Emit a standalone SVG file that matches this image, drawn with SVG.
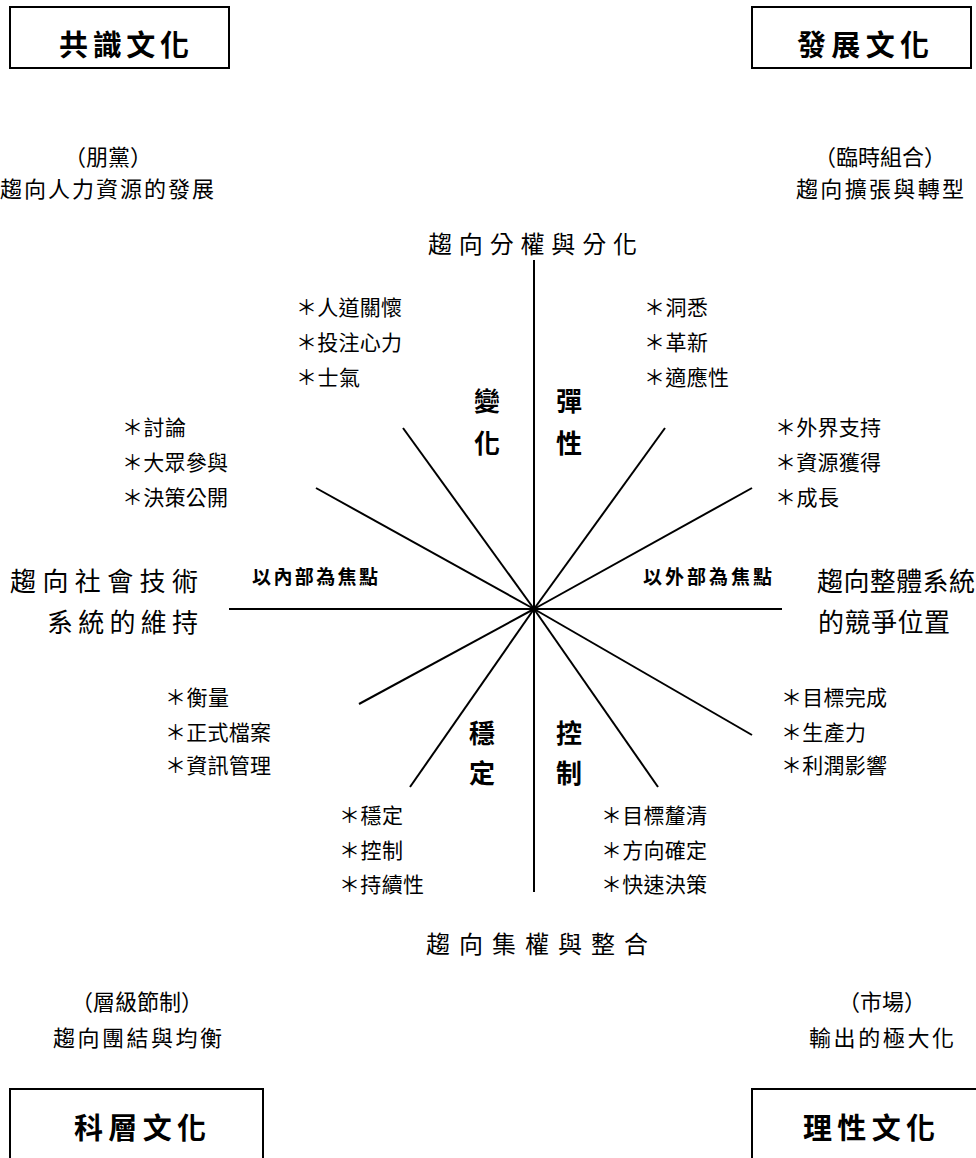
<svg xmlns="http://www.w3.org/2000/svg" width="976" height="1158" viewBox="0 0 976 1158">
<style>
text{font-family:"Liberation Serif","Noto Sans CJK TC",serif;fill:#000}
.it{font-size:21px}
.lab{font-size:22px}
.side{font-size:26px}
.ax{font-size:24px}
.b{font-family:"Noto Sans CJK TC","Liberation Sans",sans-serif;font-weight:bold}
.bx{font-size:29px}
.q{font-size:26px}
.f{font-size:19px}
.box{fill:none;stroke:#000;stroke-width:2}
.ln{stroke:#000;stroke-width:2;fill:none}
</style>
<rect width="976" height="1158" fill="#fff"/>
<g id="connectors">
<line class="ln" x1="534" y1="260" x2="534" y2="892"/>
<line class="ln" x1="229" y1="609" x2="782" y2="609"/>
<line class="ln" x1="534" y1="609" x2="403" y2="428"/>
<line class="ln" x1="534" y1="609" x2="316" y2="488"/>
<line class="ln" x1="534" y1="609" x2="665" y2="428"/>
<line class="ln" x1="534" y1="609" x2="752" y2="488"/>
<line class="ln" x1="534" y1="609" x2="359" y2="704"/>
<line class="ln" x1="534" y1="609" x2="410" y2="787"/>
<line class="ln" x1="534" y1="609" x2="658" y2="787"/>
<line class="ln" x1="534" y1="609" x2="752" y2="735"/>
</g>
<g id="consensus">
<rect class="box" x="10" y="7" width="219" height="61"/>
<text class="b bx" x="59" y="56" textLength="130" lengthAdjust="spacing">共識文化</text>
<text class="lab" x="108" y="165" text-anchor="middle">（朋黨）</text>
<text class="lab" x="0" y="197" textLength="214" lengthAdjust="spacing">趨向人力資源的發展</text>
</g>
<g id="development">
<rect class="box" x="752" y="7" width="219" height="61"/>
<text class="b bx" x="797" y="56" textLength="132" lengthAdjust="spacing">發展文化</text>
<text class="lab" x="880" y="165" text-anchor="middle">（臨時組合）</text>
<text class="lab" x="796" y="197" textLength="168" lengthAdjust="spacing">趨向擴張與轉型</text>
</g>
<g id="bureaucratic">
<rect class="box" x="10" y="1089" width="253" height="90"/>
<text class="b bx" x="74" y="1139" textLength="132" lengthAdjust="spacing">科層文化</text>
<text class="lab" x="137" y="1010" text-anchor="middle">（層級節制）</text>
<text class="lab" x="53" y="1046" textLength="169" lengthAdjust="spacing">趨向團結與均衡</text>
</g>
<g id="rational">
<rect class="box" x="752" y="1089" width="260" height="90"/>
<text class="b bx" x="803" y="1139" textLength="132" lengthAdjust="spacing">理性文化</text>
<text class="lab" x="882" y="1010" text-anchor="middle">（市場）</text>
<text class="lab" x="809" y="1046" textLength="145" lengthAdjust="spacing">輸出的極大化</text>
</g>
<g id="axis-top">
<text class="ax" x="428" y="253" textLength="209" lengthAdjust="spacing">趨向分權與分化</text>
</g>
<g id="axis-bottom">
<text class="ax" x="426" y="953" textLength="222" lengthAdjust="spacing">趨向集權與整合</text>
</g>
<g id="axis-left">
<text class="side" x="10" y="591" textLength="188" lengthAdjust="spacing">趨向社會技術</text>
<text class="side" x="47" y="632" textLength="151" lengthAdjust="spacing">系統的維持</text>
<text class="b f" x="252" y="584" textLength="126" lengthAdjust="spacing">以內部為焦點</text>
</g>
<g id="axis-right">
<text class="side" x="817" y="591" textLength="158" lengthAdjust="spacing">趨向整體系統</text>
<text class="side" x="818" y="632" textLength="132" lengthAdjust="spacing">的競爭位置</text>
<text class="b f" x="643" y="584" textLength="129" lengthAdjust="spacing">以外部為焦點</text>
</g>
<g id="quadrant-labels">
<text class="b q" x="487" y="411" text-anchor="middle">變</text>
<text class="b q" x="487" y="453" text-anchor="middle">化</text>
<text class="b q" x="569" y="411" text-anchor="middle">彈</text>
<text class="b q" x="569" y="453" text-anchor="middle">性</text>
<text class="b q" x="482" y="743" text-anchor="middle">穩</text>
<text class="b q" x="482" y="783" text-anchor="middle">定</text>
<text class="b q" x="569" y="743" text-anchor="middle">控</text>
<text class="b q" x="569" y="783" text-anchor="middle">制</text>
</g>
<g id="list-ul-top">
<text class="it" x="296" y="315" textLength="106" lengthAdjust="spacing">＊人道關懷</text>
<text class="it" x="296" y="350" textLength="106" lengthAdjust="spacing">＊投注心力</text>
<text class="it" x="296" y="385" textLength="64" lengthAdjust="spacing">＊士氣</text>
</g>
<g id="list-ur-top">
<text class="it" x="644" y="315" textLength="64" lengthAdjust="spacing">＊洞悉</text>
<text class="it" x="644" y="350" textLength="64" lengthAdjust="spacing">＊革新</text>
<text class="it" x="644" y="385" textLength="85" lengthAdjust="spacing">＊適應性</text>
</g>
<g id="list-ul">
<text class="it" x="122" y="435" textLength="64" lengthAdjust="spacing">＊討論</text>
<text class="it" x="122" y="470" textLength="106" lengthAdjust="spacing">＊大眾參與</text>
<text class="it" x="122" y="505" textLength="106" lengthAdjust="spacing">＊決策公開</text>
</g>
<g id="list-ur">
<text class="it" x="775" y="435" textLength="106" lengthAdjust="spacing">＊外界支持</text>
<text class="it" x="775" y="470" textLength="106" lengthAdjust="spacing">＊資源獲得</text>
<text class="it" x="775" y="505" textLength="64" lengthAdjust="spacing">＊成長</text>
</g>
<g id="list-ll">
<text class="it" x="165" y="705" textLength="64" lengthAdjust="spacing">＊衡量</text>
<text class="it" x="165" y="740" textLength="106" lengthAdjust="spacing">＊正式檔案</text>
<text class="it" x="165" y="773" textLength="106" lengthAdjust="spacing">＊資訊管理</text>
</g>
<g id="list-lr">
<text class="it" x="781" y="705" textLength="106" lengthAdjust="spacing">＊目標完成</text>
<text class="it" x="781" y="740" textLength="85" lengthAdjust="spacing">＊生產力</text>
<text class="it" x="781" y="773" textLength="106" lengthAdjust="spacing">＊利潤影響</text>
</g>
<g id="list-bl">
<text class="it" x="339" y="823" textLength="64" lengthAdjust="spacing">＊穩定</text>
<text class="it" x="339" y="858" textLength="64" lengthAdjust="spacing">＊控制</text>
<text class="it" x="339" y="892" textLength="85" lengthAdjust="spacing">＊持續性</text>
</g>
<g id="list-br">
<text class="it" x="601" y="823" textLength="106" lengthAdjust="spacing">＊目標釐清</text>
<text class="it" x="601" y="858" textLength="106" lengthAdjust="spacing">＊方向確定</text>
<text class="it" x="601" y="892" textLength="106" lengthAdjust="spacing">＊快速決策</text>
</g>
</svg>
